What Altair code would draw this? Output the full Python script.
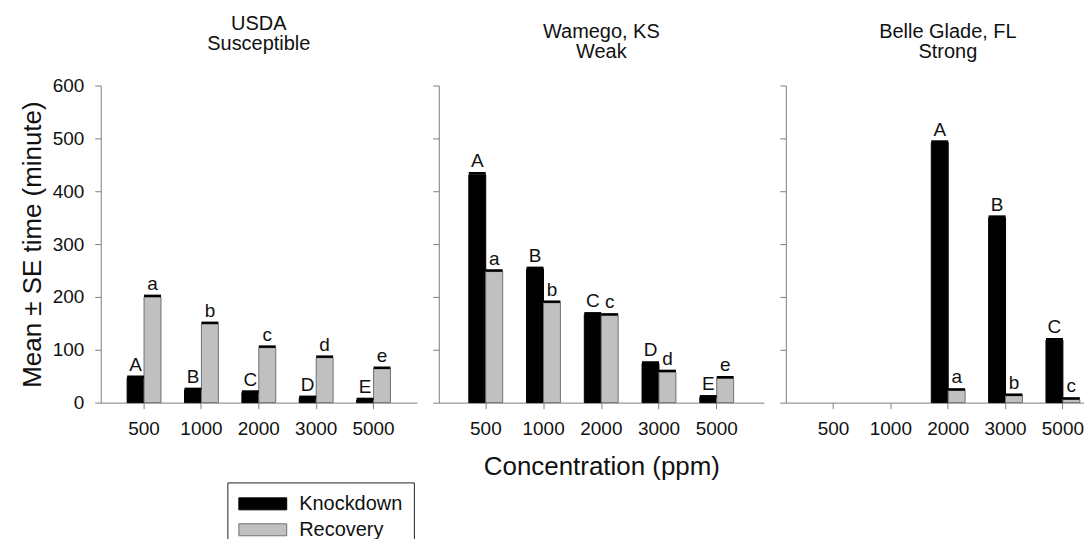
import altair as alt
import pandas as pd

FONT = "Liberation Sans"

conc = ["500", "1000", "2000", "3000", "5000"]
series = ["Knockdown", "Recovery"]

panel_keys = ["USDA", "Wamego", "Belle"]
panel_titles = [["USDA", "Susceptible"], ["Wamego, KS", "Weak"], ["Belle Glade, FL", "Strong"]]

# USDA (susceptible)
usda_kd = [47, 24, 19, 9, 5]
usda_kd_se = [2, 2, 2, 2, 2]
usda_kd_let = ["A", "B", "C", "D", "E"]
usda_rec = [200, 149, 104, 85, 64]
usda_rec_se = [2, 2, 2, 2, 2]
usda_rec_let = ["a", "b", "c", "d", "e"]

# Wamego, KS (weak)
wam_kd = [431, 253, 167, 74, 10]
wam_kd_se = [3, 2, 2, 2, 2]
wam_kd_let = ["A", "B", "C", "D", "E"]
wam_rec = [248, 189, 165, 58, 46]
wam_rec_se = [2, 2, 2, 2, 2]
wam_rec_let = ["a", "b", "c", "d", "e"]

# Belle Glade, FL (strong) - no data at 500 and 1000 ppm
bg_kd = [None, None, 492, 350, 118]
bg_kd_se = [None, None, 2, 2, 2]
bg_kd_let = [None, None, "A", "B", "C"]
bg_rec = [None, None, 23, 13, 6]
bg_rec_se = [None, None, 2, 2, 2]
bg_rec_let = [None, None, "a", "b", "c"]

source = {
    "USDA": [(usda_kd, usda_kd_se, usda_kd_let), (usda_rec, usda_rec_se, usda_rec_let)],
    "Wamego": [(wam_kd, wam_kd_se, wam_kd_let), (wam_rec, wam_rec_se, wam_rec_let)],
    "Belle": [(bg_kd, bg_kd_se, bg_kd_let), (bg_rec, bg_rec_se, bg_rec_let)],
}

rows = []
for key in panel_keys:
    for s_name, (vals, ses, lets) in zip(series, source[key]):
        for c, v, e, l in zip(conc, vals, ses, lets):
            if v is None:
                continue
            rows.append({"panel": key, "conc": c, "series": s_name,
                         "mean": v, "se": e, "letter": l})
df = pd.DataFrame(rows)

color_enc = alt.Color(
    "series:N",
    scale=alt.Scale(domain=series, range=["#000000", "#c0c0c0"]),
    legend=alt.Legend(
        title=None, orient="none", legendX=127, legendY=398,
        direction="vertical", strokeColor="#222222", fillColor="white",
        padding=11, labelFont=FONT, labelFontSize=20, labelColor="#111111",
        symbolType="M-1,-0.6H3.8V0.6H-1Z", symbolSize=400,
        symbolStrokeColor="#666666", symbolStrokeWidth=1, symbolOpacity=1,
        labelOffset=40, rowPadding=5,
    ),
)
stroke_enc = alt.Stroke(
    "series:N",
    scale=alt.Scale(domain=series, range=["#000000", "#707070"]),
    legend=None,
)


def make_panel(idx, width, pad_outer, align, title_dx):
    key = panel_keys[idx]
    show_y = idx == 0
    show_xt = idx == 1
    x_axis = alt.Axis(labelAngle=0, title="Concentration (ppm)" if show_xt else None,
                      titlePadding=15, labelPadding=11)
    y_axis = alt.Axis(values=[0, 100, 200, 300, 400, 500, 600],
                      labels=show_y, titlePadding=7, labelPadding=11,
                      title="Mean ± SE time (minute)" if show_y else None)
    x = alt.X("conc:N", sort=conc,
              scale=alt.Scale(domain=conc, paddingInner=0.41,
                              paddingOuter=pad_outer, align=align),
              axis=x_axis)
    xo = alt.XOffset("series:N", sort=series,
                     scale=alt.Scale(domain=series, paddingInner=0, paddingOuter=0))
    ysc = alt.Scale(domain=[0, 600], nice=False)

    base = alt.Chart(df).transform_filter(alt.datum.panel == key).transform_calculate(
        top="datum.mean + datum.se")

    bars = base.mark_bar(strokeWidth=1).encode(
        x=x, xOffset=xo,
        y=alt.Y("mean:Q", scale=ysc, axis=y_axis),
        color=color_enc, stroke=stroke_enc,
    )
    caps = base.mark_tick(color="black", thickness=2.5, size=17, opacity=1).encode(
        x=x, xOffset=xo,
        y=alt.Y("top:Q", scale=ysc, axis=y_axis),
    )
    letters = base.mark_text(font=FONT, fontSize=19, color="#111111",
                             baseline="alphabetic", dy=-6).encode(
        x=x, xOffset=xo,
        y=alt.Y("top:Q", scale=ysc, axis=y_axis),
        text="letter:N",
    )
    return alt.layer(bars, caps, letters).properties(
        width=width, height=318,
        title=alt.TitleParams(text=panel_titles[idx], font=FONT, fontSize=20,
                              fontWeight="normal", color="#111111",
                              lineHeight=20, offset=23, anchor="middle", dx=title_dx),
    )


p1 = make_panel(0, 317, 0.46, 0.5, 0)
p2 = make_panel(1, 326, 0.52, 0.5, 0)
p3 = make_panel(2, 299, 0.305, 0.88, 13)

chart = alt.hconcat(p1, p2, p3, spacing=15).properties(
    padding={"left": 11, "top": 5, "right": 0, "bottom": -14}
).configure_view(stroke=None).configure_axis(
    domainColor="#808080", tickColor="#808080", tickSize=6, grid=False,
    labelFont=FONT, labelFontSize=19, labelColor="#111111",
    titleFont=FONT, titleFontSize=26, titleFontWeight="normal", titleColor="#111111",
    domainWidth=1, tickWidth=1,
)

chart.save("out.html", embed_options={"renderer": "svg", "actions": False})
